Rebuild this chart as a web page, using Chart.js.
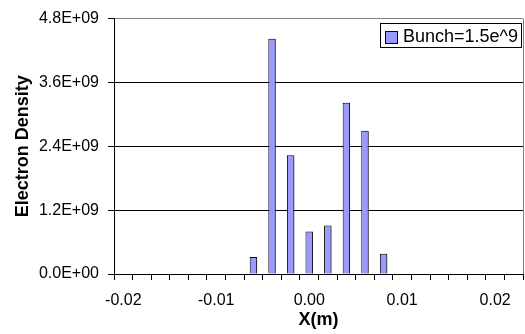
<!DOCTYPE html>
<html>
<head>
<meta charset="utf-8">
<script src="https://cdn.jsdelivr.net/npm/chart.js@4/dist/chart.umd.min.js"></script>
<style>
  html, body { margin: 0; padding: 0; background: #ffffff; }
  canvas { display: block; }
</style>
</head>
<body>
<canvas id="chart" width="525" height="334"></canvas>
<script>
// Beam position across the aperture (m), one category per 2 mm bin
const positions = [-0.020, -0.018, -0.016, -0.014, -0.012, -0.010, -0.008, -0.006,
                   -0.004, -0.002, 0.000, 0.002, 0.004, 0.006, 0.008, 0.010,
                   0.012, 0.014, 0.016, 0.018, 0.020, 0.022];
// Electron cloud density in each bin
const density = [0, 0, 0, 0, 0, 0, 0, 3.2e8,
                 4.42e9, 2.23e9, 8.0e8, 9.1e8, 3.22e9, 2.69e9, 3.8e8, 0,
                 0, 0, 0, 0, 0, 0];
const seriesName = 'Bunch=1.5e^9';
const yTickValues = [0, 1.2e9, 2.4e9, 3.6e9, 4.8e9];
const xLabelEvery = 5;

const FONT = '"Liberation Sans", Arial, sans-serif';
const BAR_FILL = '#9999ff';

function sciLabel(v) {
  const parts = Number(v).toExponential(1).split('e');
  const exp = parseInt(parts[1], 10);
  return parts[0] + 'E' + (exp < 0 ? '-' : '+') + String(Math.abs(exp)).padStart(2, '0');
}

// Soft drop shadow behind the bars
const barShadow = {
  id: 'barShadow',
  beforeDatasetsDraw(chart) {
    const ctx = chart.ctx;
    ctx.save();
    ctx.shadowColor = 'rgba(0,0,0,0.35)';
    ctx.shadowOffsetX = 2;
    ctx.shadowOffsetY = 1;
    ctx.shadowBlur = 0;
  },
  afterDatasetsDraw(chart) {
    chart.ctx.restore();
  }
};

// Framed legend in the top-right corner of the plot area
const boxedLegend = {
  id: 'boxedLegend',
  afterDraw(chart) {
    const ds = chart.data.datasets[0];
    const ctx = chart.ctx;
    const area = chart.chartArea;
    ctx.save();
    ctx.font = '18px ' + FONT;
    const textW = ctx.measureText(ds.label).width;
    const textRight = area.right - 5;
    const textX = textRight - textW;
    const midY = area.top + 18.5;
    const sw = 12;
    const swX = textX - 6 - sw;
    const frameL = Math.round(swX - 5) + 0.5;
    const frameR = Math.round(area.right - 2) + 0.5;
    const frameT = Math.round(area.top + 4) + 0.5;
    const frameB = Math.round(area.top + 28) + 0.5;

    ctx.fillStyle = '#ffffff';
    ctx.fillRect(frameL, frameT, frameR - frameL, frameB - frameT);
    ctx.strokeStyle = '#000';
    ctx.lineWidth = 1;
    ctx.strokeRect(frameL, frameT, frameR - frameL, frameB - frameT);

    const swY = Math.round(midY - sw / 2) + 0.5;
    const swL = Math.round(swX) + 0.5;
    ctx.fillStyle = ds.backgroundColor;
    ctx.fillRect(swL, swY, sw, sw);
    ctx.strokeStyle = ds.borderColor;
    ctx.strokeRect(swL, swY, sw, sw);

    ctx.fillStyle = '#000';
    ctx.textBaseline = 'middle';
    ctx.textAlign = 'left';
    ctx.fillText(ds.label, textX, midY);
    ctx.restore();
  }
};

new Chart(document.getElementById('chart'), {
  type: 'bar',
  data: {
    labels: positions,
    datasets: [{
      label: seriesName,
      data: density,
      backgroundColor: BAR_FILL,
      borderColor: '#000000',
      borderWidth: 1,
      barPercentage: 0.4,
      categoryPercentage: 1.0
    }]
  },
  options: {
    responsive: false,
    animation: false,
    devicePixelRatio: 1,
    layout: { padding: { top: 15, right: 2, left: 0, bottom: 0 } },
    plugins: {
      tooltip: { enabled: false },
      legend: { display: false }
    },
    scales: {
      x: {
        type: 'category',
        afterFit(scale) { scale.height = 60; },
        grid: {
          offset: true,
          drawOnChartArea: true,
          color: (ctx) => (ctx.index === undefined ? '#808080' : 'rgba(0,0,0,0)'),
          tickColor: '#000',
          tickLength: 6,
          lineWidth: 1
        },
        border: { display: true, color: '#000', width: 1 },
        ticks: {
          autoSkip: false,
          maxRotation: 0,
          minRotation: 0,
          padding: 11,
          color: '#000',
          font: { family: FONT, size: 16 },
          callback(value, index) {
            return index % xLabelEvery === 0 ? positions[index].toFixed(2) : '';
          }
        },
        title: {
          display: true,
          text: 'X(m)',
          color: '#000',
          font: { family: FONT, size: 18, weight: 'bold' },
          padding: { top: 0, bottom: 3 }
        }
      },
      y: {
        min: 0,
        max: 4.8e9,
        afterFit(scale) { scale.width = 114; },
        afterBuildTicks(scale) { scale.ticks = yTickValues.map(v => ({ value: v })); },
        grid: {
          color: (ctx) => (ctx.tick && ctx.tick.value === 4.8e9 ? '#808080' : '#000'),
          tickColor: '#000',
          tickLength: 6,
          lineWidth: 1
        },
        border: { display: true, color: '#000', width: 1 },
        ticks: {
          padding: 9,
          color: '#000',
          font: { family: FONT, size: 16 },
          callback: (v) => sciLabel(v)
        },
        title: {
          display: true,
          text: 'Electron Density',
          color: '#000',
          font: { family: FONT, size: 18, weight: 'bold' },
          padding: { top: 12, bottom: 0 }
        }
      }
    }
  },
  plugins: [barShadow, boxedLegend]
});
</script>
</body>
</html>
